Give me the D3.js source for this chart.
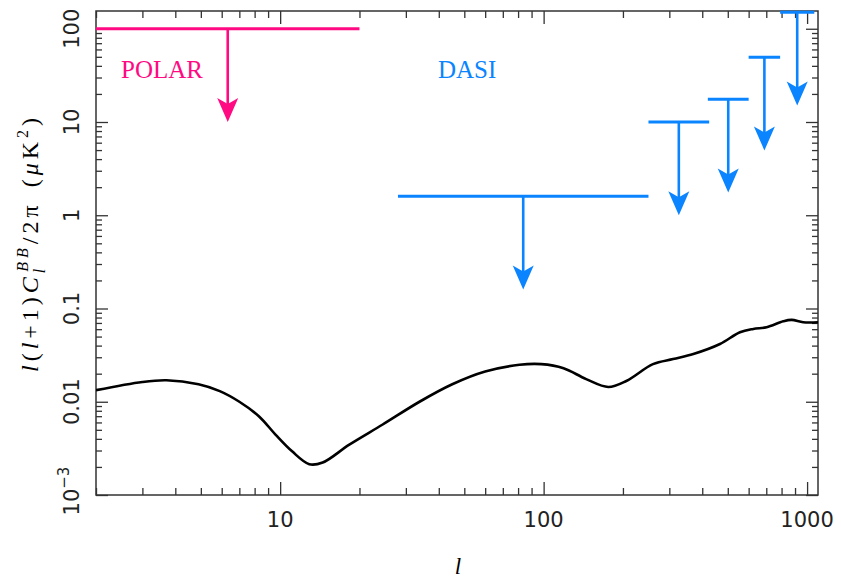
<!DOCTYPE html>
<html>
<head>
<meta charset="utf-8">
<script src="https://cdn.jsdelivr.net/npm/d3@7"></script>
<style>
  body { margin: 0; background: #fff; }
  svg { display: block; }
  .tick-label { font-family: 'DejaVu Sans'; font-size: 21px; fill: #222; }
  .exp-label { font-family: 'Liberation Serif'; font-size: 25px; }
</style>
</head>
<body>
<svg id="chart" width="841" height="582"></svg>
<script>
// model B-mode spectrum, l(l+1)C_l/2pi in uK^2
const ell  = [2, 3, 3.7, 4.9, 5.9, 7.0, 8.3, 9.6, 11.1, 12.9, 14.5, 18.3, 24.5, 33.8, 45, 60, 81, 98, 119, 145, 176, 206, 260, 310, 370, 467, 556, 625, 702, 812, 874, 966, 1100];
const clBB = [0.0133, 0.0163, 0.0170, 0.0154, 0.0130, 0.0100, 0.0070, 0.00445, 0.00294, 0.00214, 0.00223, 0.00347, 0.0057, 0.0100, 0.0154, 0.0211, 0.0249, 0.0253, 0.0229, 0.0175, 0.0144, 0.0167, 0.0253, 0.0287, 0.0325, 0.0416, 0.0556, 0.0604, 0.063, 0.073, 0.0755, 0.0713, 0.0713];

// upper limits: l bin edges and limit value
const polarLo = [2];
const polarHi = [20];
const polarLim = [100];
const dasiLo = [28, 250, 420, 600, 790];
const dasiHi = [250, 425, 600, 790, 1065];
const dasiLim = [1.6, 10, 17.5, 49.5, 150];

const xMajor = [10, 100, 1000];
const xLabels = ["10", "100", "1000"];
const yMajor = [1e-3, 0.01, 0.1, 1, 10, 100];
const yLabels = ["10^-3", "0.01", "0.1", "1", "10", "100"];

const margin = {top: 11, right: 23, bottom: 87, left: 96};
const W = 841, H = 582;
const iw = W - margin.left - margin.right;
const ih = H - margin.top - margin.bottom;

const svg = d3.select("#chart");
const g = svg.append("g").attr("transform", `translate(${margin.left},${margin.top})`);

const x = d3.scaleLog().domain([2, 1100]).range([0, iw]);
const y = d3.scaleLog().domain([1e-3, 155]).range([ih, 0]);

svg.append("defs").append("clipPath").attr("id", "plotclip")
  .append("rect").attr("width", iw).attr("height", ih);

// ticks (major long, minor short, on all four sides)
const xMinor = x.ticks().filter(v => !xMajor.includes(v));
const yMinor = y.ticks().filter(v => !yMajor.some(m => Math.abs(m - v) / m < 1e-6));

function addAxis(axisFn, scale, vals, size, tr) {
  const a = g.append("g").attr("transform", tr)
    .call(axisFn(scale).tickValues(vals).tickSize(size).tickSizeOuter(0).tickFormat(""));
  a.select(".domain").remove();
  a.selectAll("line").attr("stroke", "#333").attr("stroke-width", 1.3);
}
addAxis(d3.axisBottom, x, xMajor, -13, `translate(0,${ih})`);
addAxis(d3.axisBottom, x, xMinor, -7, `translate(0,${ih})`);
addAxis(d3.axisTop, x, xMajor, -13, "translate(0,0)");
addAxis(d3.axisTop, x, xMinor, -7, "translate(0,0)");
addAxis(d3.axisLeft, y, yMajor, -12, "translate(0,0)");
addAxis(d3.axisLeft, y, yMinor, -6, "translate(0,0)");
addAxis(d3.axisRight, y, yMajor, -12, `translate(${iw},0)`);
addAxis(d3.axisRight, y, yMinor, -6, `translate(${iw},0)`);

// frame
g.append("rect").attr("width", iw).attr("height", ih)
  .attr("fill", "none").attr("stroke", "#333").attr("stroke-width", 1.5);

// x tick labels
xMajor.forEach((v, i) => {
  g.append("text").attr("class", "tick-label")
    .attr("x", x(v)).attr("y", ih + 32)
    .attr("text-anchor", "middle").text(xLabels[i]);
});

// y tick labels, rotated
yMajor.forEach((v, i) => {
  const t = g.append("text").attr("class", "tick-label")
    .attr("text-anchor", "middle")
    .attr("transform", `translate(${-17},${y(v) - (i == 0 ? 4 : 0)}) rotate(-90)`);
  const lab = yLabels[i];
  if (lab.includes("^")) {
    const parts = lab.split("^");
    t.append("tspan").text(parts[0]);
    t.append("tspan").attr("font-size", 15).attr("dy", -10).text(parts[1].replace("-", "\u2212"));
  } else {
    t.text(lab);
  }
});

// model curve
const line = d3.line()
  .x(d => x(d[0]))
  .y(d => y(d[1]))
  .curve(d3.curveCatmullRom.alpha(0.5));

g.append("path")
  .datum(ell.map((l, i) => [l, clBB[i]]))
  .attr("clip-path", "url(#plotclip)")
  .attr("d", line)
  .attr("fill", "none")
  .attr("stroke", "#000")
  .attr("stroke-width", 2.6);

// upper limit bars with arrows going down one decade
function drawLimits(lo, hi, lim, color) {
  lo.forEach((l0, i) => {
    const mid = Math.sqrt(l0 * hi[i]);
    const tip = lim[i] / 10;
    g.append("line")
      .attr("x1", x(l0)).attr("x2", x(hi[i]))
      .attr("y1", y(lim[i])).attr("y2", y(lim[i]))
      .attr("stroke", color).attr("stroke-width", 3);
    g.append("line")
      .attr("x1", x(mid)).attr("x2", x(mid))
      .attr("y1", y(lim[i])).attr("y2", y(tip) - 14)
      .attr("stroke", color).attr("stroke-width", 2.6);
    g.append("path")
      .attr("d", "M0,0L-10.5,-24L0,-18L10.5,-24Z")
      .attr("transform", `translate(${x(mid)},${y(tip)})`)
      .attr("fill", color);
  });
}
drawLimits(polarLo, polarHi, polarLim, "#ff0a82");
drawLimits(dasiLo, dasiHi, dasiLim, "#0a84ff");

// experiment labels
svg.append("text").attr("class", "exp-label").attr("x", 121).attr("y", 78)
  .attr("fill", "#ff0a82").text("POLAR");
svg.append("text").attr("class", "exp-label").attr("x", 438).attr("y", 78)
  .attr("fill", "#0a84ff").text("DASI");

// axis titles
svg.append("text")
  .attr("x", 458).attr("y", 574)
  .attr("text-anchor", "middle")
  .attr("font-family", "Liberation Serif").attr("font-style", "italic")
  .attr("font-size", 23).text("l");

const yt = svg.append("text")
  .attr("transform", "translate(38,243) rotate(-90)")
  .attr("text-anchor", "middle")
  .attr("font-family", "Liberation Serif").attr("font-size", 24)
  .attr("letter-spacing", 4);
yt.append("tspan").attr("font-style", "italic").text("l");
yt.append("tspan").text("(");
yt.append("tspan").attr("font-style", "italic").text("l");
yt.append("tspan").text("+1)");
yt.append("tspan").attr("font-style", "italic").text("C");
yt.append("tspan").attr("font-style", "italic").attr("font-size", 16).attr("dy", 7).text("l");
yt.append("tspan").attr("font-style", "italic").attr("font-size", 16).attr("dx", -7).attr("dy", -17).text("BB");
yt.append("tspan").attr("dy", 10).text("/2\u03c0");
yt.append("tspan").attr("dx", 14).text("(");
yt.append("tspan").attr("font-style", "italic").text("\u03bc");
yt.append("tspan").text("K");
yt.append("tspan").attr("font-size", 16).attr("dy", -10).text("2");
yt.append("tspan").attr("dy", 10).text(")");
</script>
</body>
</html>
